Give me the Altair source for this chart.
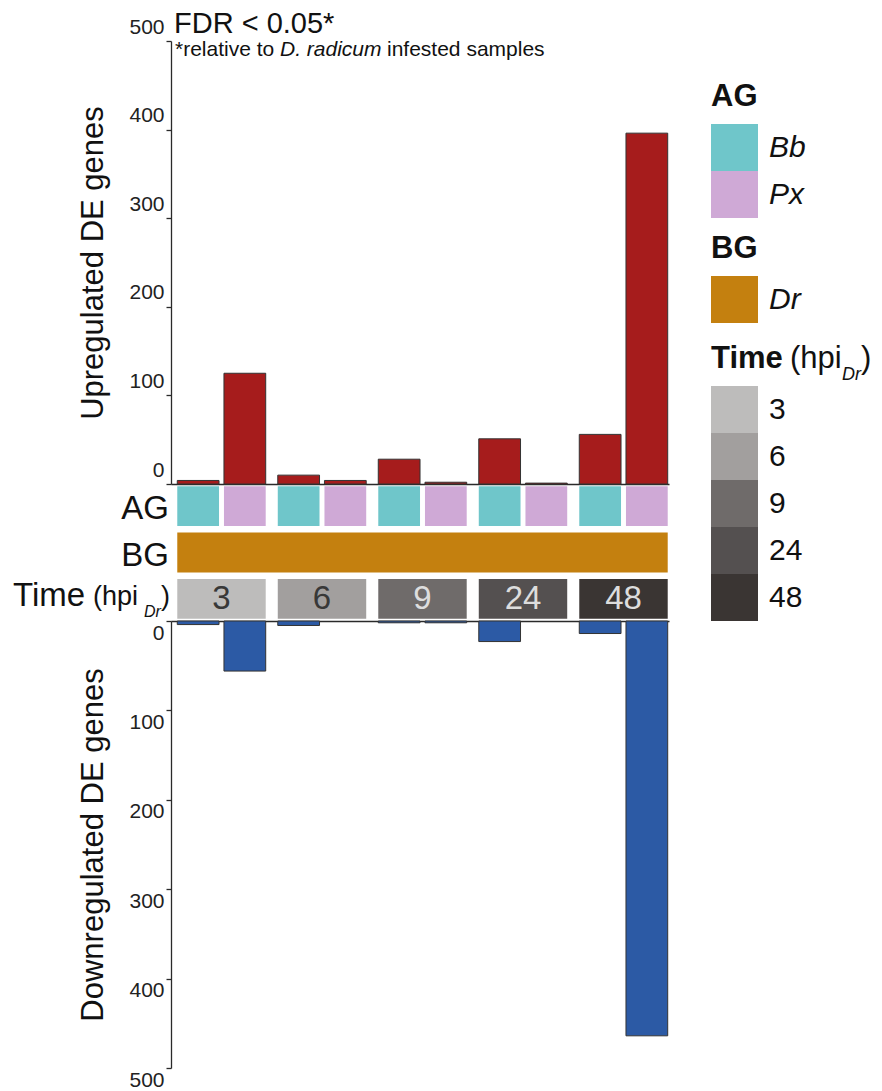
import altair as alt
import pandas as pd

# ---------------- data ----------------
times = ["3", "6", "9", "24", "48"]
ag_types = ["Bb", "Px"]
bg_types = ["Dr"]
up_bb = [4, 10, 28, 51, 56]
up_px = [125, 4, 2, 1, 396]
down_bb = [4, 5, 2, 23, 14]
down_px = [56, 0, 2, 0, 464]
y_ticks = [0, 100, 200, 300, 400, 500]
strip_rows = ["AG", "BG", "Time"]
row_labels = ["AG", "BG"]
time_label_parts = ["Time", "(hpi", "Dr", ")"]
title_text = ["FDR < 0.05*"]
subtitle_parts = ["*relative to", "D. radicum", "infested samples"]
legend_titles = ["AG", "BG", "Time"]

ag_colors = ["#6fc6ca", "#cfa9d6"]
bg_colors = ["#c4800f"]
time_colors = ["#bdbcbb", "#a29f9e", "#6f6b6a", "#545050", "#3a3533"]

rows = []
for i, t in enumerate(times):
    rows.append({"Time": t, "AG": "Bb", "up": up_bb[i], "down": down_bb[i]})
    rows.append({"Time": t, "AG": "Px", "up": up_px[i], "down": down_px[i]})
df = pd.DataFrame(rows)
time_df = pd.DataFrame({"Time": times})
bg_df = pd.DataFrame({"BG": bg_types, "start": [times[0]], "end": [times[-1]]})

FONT = "Liberation Sans"
W = 498
H_UP = 443
H_STRIP = 137
H_DOWN = 447

xscale = alt.Scale(domain=times, paddingInner=0.12, paddingOuter=0.0376, align=0.83)
xoff = alt.Scale(domain=ag_types, paddingInner=0.106, paddingOuter=0)
yrow = alt.Scale(domain=strip_rows, paddingInner=0.14, paddingOuter=0.05)


def txt(values, **kw):
    return alt.Chart(pd.DataFrame({"t": values})).mark_text(font=FONT, color="#111", **kw)


def yaxis(title, offset):
    return alt.Axis(values=y_ticks, title=title, labelOffset=offset, tickSize=5,
                    tickColor="#2a2a2a", domainColor="#2a2a2a", domainWidth=1.3, tickWidth=1.3,
                    labelColor="#222", labelFont=FONT, labelFontSize=21, labelPadding=2,
                    titleFont=FONT, titleFontSize=31, titleFontWeight="normal",
                    titleColor="#111", titlePadding=19, grid=False)


def xaxis(orient):
    return alt.Axis(orient=orient, title=None, labels=False, ticks=False, domain=True,
                    domainColor="#2a2a2a", domainWidth=1.4, grid=False)


# ---------------- upper panel ----------------
up_bars = alt.Chart(df).mark_bar(color="#a61c1c", stroke="#333333", strokeWidth=1).encode(
    x=alt.X("Time:N", scale=xscale, axis=xaxis("bottom")),
    xOffset=alt.XOffset("AG:N", scale=xoff),
    y=alt.Y("up:Q", scale=alt.Scale(domain=[0, 500], nice=False), axis=yaxis("Upregulated DE genes", -14)),
)
title_mark = txt(title_text, align="left", baseline="middle", fontSize=29).encode(
    text="t:N", x=alt.value(3), y=alt.value(-17))
sub1 = txt(subtitle_parts[:1], align="left", baseline="middle", fontSize=21).encode(
    text="t:N", x=alt.value(4), y=alt.value(9))
sub2 = txt(subtitle_parts[1:2], align="left", baseline="middle", fontSize=21, fontStyle="italic").encode(
    text="t:N", x=alt.value(109), y=alt.value(9))
sub3 = txt(subtitle_parts[2:], align="left", baseline="middle", fontSize=21).encode(
    text="t:N", x=alt.value(216), y=alt.value(9))
upper = alt.layer(up_bars, title_mark, sub1, sub2, sub3).properties(width=W, height=H_UP)


# ---------------- strip ----------------
def leg(title, lx, ly, italic):
    return alt.Legend(title=title, orient="none", legendX=lx, legendY=ly, direction="vertical",
                      titleFont=FONT, titleFontSize=31, titleFontWeight="bold", titleColor="#111",
                      titlePadding=11, labelFont=FONT, labelFontSize=30,
                      labelFontStyle="italic" if italic else "normal", labelColor="#111",
                      labelOffset=11, symbolType="square", symbolSize=2209, symbolStrokeWidth=0,
                      rowPadding=0, padding=0, symbolOpacity=1)


ag_rect = alt.Chart(df).transform_calculate(row="'AG'").mark_rect().encode(
    x=alt.X("Time:N", scale=xscale, axis=None),
    xOffset=alt.XOffset("AG:N", scale=xoff),
    y=alt.Y("row:N", scale=yrow, axis=None),
    color=alt.Color("AG:N", scale=alt.Scale(domain=ag_types, range=ag_colors),
                    legend=leg(legend_titles[0], 540, -402, True)),
)
bg_rect = alt.Chart(bg_df).transform_calculate(row="'BG'").mark_rect().encode(
    x=alt.X("start:N", scale=xscale, axis=None, bandPosition=0),
    x2=alt.X2("end:N", bandPosition=1),
    y=alt.Y("row:N", scale=yrow, axis=None),
    color=alt.Color("BG:N", scale=alt.Scale(domain=bg_types, range=bg_colors),
                    legend=leg(legend_titles[1], 540, -250, True)),
)
time_rect = alt.Chart(time_df).transform_calculate(row="'Time'").mark_rect().encode(
    x=alt.X("Time:N", scale=xscale, axis=None),
    y=alt.Y("row:N", scale=yrow, axis=None),
    color=alt.Color("Time:N", scale=alt.Scale(domain=times, range=time_colors),
                    legend=leg(legend_titles[2], 540, -140, False)),
)
time_num = alt.Chart(time_df).transform_calculate(row="'Time'").mark_text(
    font=FONT, fontSize=33, baseline="middle").encode(
    x=alt.X("Time:N", scale=xscale, axis=None),
    y=alt.Y("row:N", scale=yrow, axis=None),
    text="Time:N",
    color=alt.condition("datum.Time == '3' || datum.Time == '6'", alt.value("#383838"), alt.value("#dddddd")),
)
row_lbl = alt.Chart(pd.DataFrame({"row": row_labels})).mark_text(
    font=FONT, fontSize=33, align="right", baseline="middle", dy=3, color="#111").encode(
    x=alt.value(-2), y=alt.Y("row:N", scale=yrow, axis=None), text="row:N")


def time_piece(part, xpos, size, dy, italic=False):
    return alt.Chart(pd.DataFrame({"t": [part]})).transform_calculate(row="'Time'").mark_text(
        font=FONT, fontSize=size, align="left", baseline="middle", dy=dy, color="#111",
        fontStyle="italic" if italic else "normal").encode(
        x=alt.value(xpos), y=alt.Y("row:N", scale=yrow, axis=None), text="t:N")


tp1 = time_piece(time_label_parts[0], -158, 33, -3)
tp2 = time_piece(time_label_parts[1], -78, 27, -2)
tp3 = time_piece(time_label_parts[2], -27, 16, 13, True)
tp4 = time_piece(time_label_parts[3], -10, 27, -2)

lt1 = txt(time_label_parts[1:2], align="left", baseline="top", fontSize=31).encode(
    text="t:N", x=alt.value(619), y=alt.value(-140))
lt2 = txt(time_label_parts[2:3], align="left", baseline="top", fontSize=18, fontStyle="italic").encode(
    text="t:N", x=alt.value(671), y=alt.value(-118))
lt3 = txt(time_label_parts[3:], align="left", baseline="top", fontSize=31).encode(
    text="t:N", x=alt.value(690), y=alt.value(-140))

strip = alt.layer(ag_rect, bg_rect, time_rect, time_num, row_lbl, tp1, tp2, tp3, tp4,
                  lt1, lt2, lt3).resolve_scale(color="independent").properties(width=W, height=H_STRIP)

# ---------------- lower panel ----------------
down_bars = alt.Chart(df).transform_filter("datum.down > 0").mark_bar(
    color="#2c5aa5", stroke="#333333", strokeWidth=1).encode(
    x=alt.X("Time:N", scale=xscale, axis=xaxis("top")),
    xOffset=alt.XOffset("AG:N", scale=xoff),
    y=alt.Y("down:Q", scale=alt.Scale(domain=[0, 500], nice=False, reverse=True),
            axis=yaxis("Downregulated DE genes", 12)),
)
lower = down_bars.properties(width=W, height=H_DOWN)

chart = alt.vconcat(upper, strip, lower, spacing=0, bounds="flush").properties(
    padding={"left": 5, "top": 2, "right": 0, "bottom": 0}
).resolve_scale(color="independent").configure(font=FONT).configure_view(stroke=None)

chart.save("out.html", embed_options={"renderer": "svg", "actions": False})
